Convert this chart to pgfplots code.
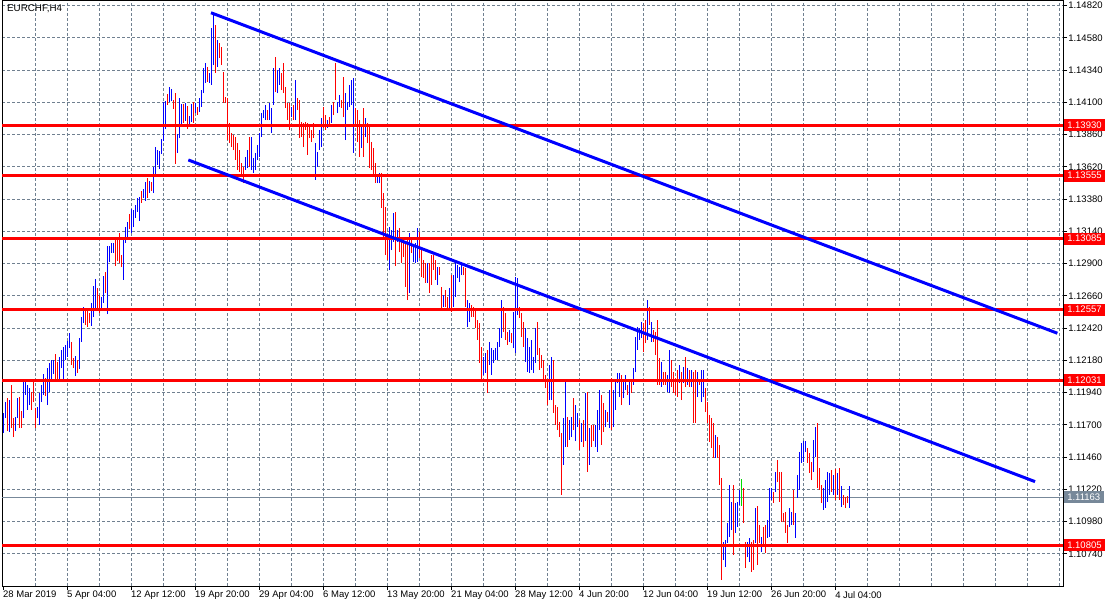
\documentclass[border=0pt]{standalone}
\usepackage{fontspec}
\setmainfont{Liberation Sans}
\usepackage{pgfplots}
\pgfplotsset{compat=1.18}
\definecolor{gridc}{RGB}{112,128,144}
\definecolor{curc}{RGB}{119,136,153}
\definecolor{mtblue}{RGB}{0,0,255}
\definecolor{mtred}{RGB}{255,0,0}
\definecolor{mtgreen}{RGB}{0,220,0}
\newcommand{\lblfont}{\fontsize{9.5bp}{11bp}\selectfont}
\begin{document}
\begin{tikzpicture}
\useasboundingbox (0,0) rectangle (1116bp,607bp);
\begin{axis}[
  at={(2bp,21bp)}, anchor=south west,
  scale only axis, width=1061bp, height=585bp,
  xmin=-0.75, xmax=529.75, ymin=1.105016, ymax=1.148535,
  axis line style={black, line width=1bp},
  xtick={32,64,...,416},
  xticklabels={5 Apr 04:00,12 Apr 12:00,19 Apr 20:00,29 Apr 04:00,6 May 12:00,13 May 20:00,21 May 04:00,28 May 12:00,4 Jun 20:00,12 Jun 04:00,19 Jun 12:00,26 Jun 20:00,4 Jul 04:00},
  extra x ticks={0},
  extra x tick labels={28 Mar 2019},
  extra x tick style={grid=none},
  minor xtick={16,48,...,528,448,480,512},
  ytick={1.1074,1.1098,1.1122,1.1146,1.117,1.1194,1.1218,1.1242,1.1266,1.129,1.1314,1.1338,1.1362,1.1386,1.141,1.1434,1.1458,1.1482},
  yticklabels={1.10740,1.10980,1.11220,1.11460,1.11700,1.11940,1.12180,1.12420,1.12660,1.12900,1.13140,1.13380,1.13620,1.13860,1.14100,1.14340,1.14580,1.14820},
  xmajorgrids=true, xminorgrids=true, ymajorgrids=true,
  major grid style={gridc, line width=1bp, dash pattern=on 3bp off 2bp},
  minor grid style={gridc, line width=1bp, dash pattern=on 3bp off 2bp},
  tick align=outside,
  major tick length=4bp, minor tick length=0pt,
  tick style={black, line width=1bp},
  xtick pos=left, ytick pos=right,
  yticklabel pos=right,
  yticklabel style={anchor=west, font=\lblfont, inner sep=0pt, xshift=1bp},
  xticklabel style={anchor=north west, font=\lblfont, inner sep=0pt, xshift=-0.5bp, yshift=-1bp},
  clip=true,
]
\addplot[curc, line width=1bp, forget plot] coordinates {(-0.75,1.11163) (529.75,1.11163)};
% up bars (blue): (index, low) (index, high)
\addplot[draw=mtblue, color=mtblue, line width=1.05bp, line cap=butt, unbounded coords=jump] coordinates {
(0,1.11640)(0,1.11789)(nan,nan)
(1,1.11751)(1,1.11870)(nan,nan)
(3,1.11647)(3,1.11885)(nan,nan)
(6,1.11655)(6,1.11759)(nan,nan)
(7,1.11751)(7,1.11900)(nan,nan)
(10,1.11751)(10,1.12019)(nan,nan)
(11,1.11923)(11,1.12019)(nan,nan)
(12,1.11811)(12,1.11997)(nan,nan)
(13,1.11848)(13,1.11974)(nan,nan)
(17,1.11751)(17,1.11833)(nan,nan)
(18,1.11700)(18,1.11938)(nan,nan)
(19,1.11870)(19,1.11997)(nan,nan)
(20,1.11923)(20,1.12079)(nan,nan)
(22,1.11848)(22,1.12123)(nan,nan)
(23,1.11945)(23,1.12161)(nan,nan)
(24,1.12034)(24,1.12183)(nan,nan)
(25,1.12079)(25,1.12183)(nan,nan)
(28,1.12034)(28,1.12205)(nan,nan)
(29,1.12123)(29,1.12257)(nan,nan)
(30,1.12034)(30,1.12280)(nan,nan)
(31,1.12183)(31,1.12295)(nan,nan)
(32,1.12205)(32,1.12325)(nan,nan)
(33,1.12272)(33,1.12384)(nan,nan)
(36,1.12064)(36,1.12213)(nan,nan)
(38,1.12116)(38,1.12347)(nan,nan)
(39,1.12317)(39,1.12503)(nan,nan)
(40,1.12459)(40,1.12577)(nan,nan)
(44,1.12436)(44,1.12607)(nan,nan)
(45,1.12503)(45,1.12733)(nan,nan)
(46,1.12569)(46,1.12785)(nan,nan)
(49,1.12569)(49,1.12652)(nan,nan)
(50,1.12607)(50,1.12808)(nan,nan)
(52,1.12525)(52,1.13031)(nan,nan)
(53,1.12912)(53,1.13031)(nan,nan)
(54,1.12979)(54,1.13054)(nan,nan)
(55,1.12979)(55,1.13054)(nan,nan)
(60,1.12778)(60,1.13097)(nan,nan)
(61,1.13054)(61,1.13172)(nan,nan)
(62,1.13090)(62,1.13209)(nan,nan)
(64,1.13128)(64,1.13306)(nan,nan)
(65,1.13172)(65,1.13299)(nan,nan)
(66,1.13239)(66,1.13336)(nan,nan)
(67,1.13284)(67,1.13388)(nan,nan)
(68,1.13217)(68,1.13396)(nan,nan)
(70,1.13388)(70,1.13455)(nan,nan)
(71,1.13366)(71,1.13507)(nan,nan)
(73,1.13426)(73,1.13515)(nan,nan)
(75,1.13426)(75,1.13618)(nan,nan)
(76,1.13566)(76,1.13767)(nan,nan)
(77,1.13634)(77,1.13745)(nan,nan)
(78,1.13604)(78,1.13738)(nan,nan)
(79,1.13715)(79,1.13827)(nan,nan)
(80,1.13812)(80,1.14102)(nan,nan)
(81,1.13901)(81,1.14109)(nan,nan)
(83,1.14102)(83,1.14214)(nan,nan)
(84,1.14109)(84,1.14199)(nan,nan)
(87,1.13723)(87,1.13864)(nan,nan)
(88,1.13834)(88,1.14132)(nan,nan)
(89,1.13938)(89,1.14087)(nan,nan)
(91,1.13961)(91,1.14095)(nan,nan)
(93,1.13938)(93,1.13998)(nan,nan)
(94,1.13953)(94,1.14087)(nan,nan)
(96,1.14020)(96,1.14095)(nan,nan)
(98,1.14028)(98,1.14132)(nan,nan)
(99,1.14065)(99,1.14191)(nan,nan)
(100,1.14169)(100,1.14355)(nan,nan)
(101,1.14244)(101,1.14392)(nan,nan)
(103,1.14244)(103,1.14318)(nan,nan)
(104,1.14229)(104,1.14653)(nan,nan)
(105,1.14377)(105,1.14750)(nan,nan)
(107,1.14363)(107,1.14563)(nan,nan)
(121,1.13596)(121,1.13693)(nan,nan)
(122,1.13611)(122,1.13745)(nan,nan)
(124,1.13596)(124,1.13842)(nan,nan)
(125,1.13574)(125,1.13686)(nan,nan)
(126,1.13596)(126,1.13723)(nan,nan)
(127,1.13671)(127,1.13782)(nan,nan)
(128,1.13693)(128,1.13872)(nan,nan)
(129,1.13842)(129,1.14020)(nan,nan)
(130,1.13983)(130,1.14043)(nan,nan)
(131,1.13968)(131,1.14080)(nan,nan)
(133,1.13968)(133,1.14095)(nan,nan)
(134,1.13872)(134,1.14058)(nan,nan)
(135,1.14080)(135,1.14355)(nan,nan)
(137,1.14169)(137,1.14340)(nan,nan)
(138,1.14229)(138,1.14355)(nan,nan)
(144,1.13990)(144,1.14065)(nan,nan)
(146,1.13968)(146,1.14266)(nan,nan)
(156,1.13522)(156,1.13797)(nan,nan)
(157,1.13618)(157,1.13730)(nan,nan)
(158,1.13745)(158,1.13894)(nan,nan)
(159,1.13767)(159,1.13983)(nan,nan)
(162,1.13909)(162,1.13968)(nan,nan)
(164,1.13946)(164,1.14080)(nan,nan)
(167,1.14020)(167,1.14102)(nan,nan)
(168,1.14065)(168,1.14154)(nan,nan)
(171,1.13819)(171,1.14169)(nan,nan)
(172,1.14043)(172,1.14102)(nan,nan)
(173,1.14065)(173,1.14229)(nan,nan)
(174,1.14080)(174,1.14266)(nan,nan)
(175,1.13723)(175,1.14281)(nan,nan)
(179,1.13760)(179,1.13931)(nan,nan)
(181,1.13842)(181,1.13983)(nan,nan)
(187,1.13499)(187,1.13559)(nan,nan)
(188,1.13499)(188,1.13574)(nan,nan)
(193,1.12852)(193,1.13172)(nan,nan)
(194,1.13001)(194,1.13150)(nan,nan)
(195,1.13061)(195,1.13276)(nan,nan)
(197,1.13061)(197,1.13150)(nan,nan)
(203,1.12681)(203,1.13128)(nan,nan)
(205,1.12912)(205,1.13024)(nan,nan)
(206,1.12905)(206,1.13054)(nan,nan)
(207,1.12912)(207,1.13165)(nan,nan)
(212,1.12756)(212,1.12905)(nan,nan)
(217,1.12741)(217,1.12874)(nan,nan)
(220,1.12577)(220,1.12667)(nan,nan)
(223,1.12569)(223,1.12718)(nan,nan)
(225,1.12577)(225,1.12815)(nan,nan)
(226,1.12652)(226,1.12905)(nan,nan)
(227,1.12793)(227,1.12890)(nan,nan)
(228,1.12763)(228,1.12874)(nan,nan)
(229,1.12815)(229,1.12890)(nan,nan)
(232,1.12429)(232,1.12629)(nan,nan)
(233,1.12466)(233,1.12607)(nan,nan)
(240,1.12072)(240,1.12205)(nan,nan)
(241,1.12087)(241,1.12235)(nan,nan)
(243,1.12146)(243,1.12317)(nan,nan)
(244,1.12072)(244,1.12272)(nan,nan)
(245,1.12161)(245,1.12257)(nan,nan)
(246,1.12183)(246,1.12272)(nan,nan)
(247,1.12183)(247,1.12317)(nan,nan)
(248,1.12280)(248,1.12421)(nan,nan)
(249,1.12347)(249,1.12629)(nan,nan)
(253,1.12317)(253,1.12406)(nan,nan)
(255,1.12272)(255,1.12540)(nan,nan)
(256,1.12235)(256,1.12800)(nan,nan)
(257,1.12518)(257,1.12793)(nan,nan)
(261,1.12168)(261,1.12421)(nan,nan)
(262,1.12094)(262,1.12347)(nan,nan)
(263,1.12087)(263,1.12280)(nan,nan)
(264,1.12109)(264,1.12332)(nan,nan)
(265,1.12087)(265,1.12205)(nan,nan)
(266,1.12161)(266,1.12421)(nan,nan)
(273,1.11885)(273,1.12146)(nan,nan)
(274,1.11885)(274,1.12205)(nan,nan)
(280,1.11402)(280,1.11751)(nan,nan)
(281,1.11536)(281,1.12019)(nan,nan)
(283,1.11588)(283,1.11737)(nan,nan)
(284,1.11610)(284,1.11759)(nan,nan)
(286,1.11580)(286,1.11848)(nan,nan)
(287,1.11685)(287,1.11789)(nan,nan)
(289,1.11573)(289,1.11715)(nan,nan)
(291,1.11580)(291,1.11938)(nan,nan)
(293,1.11402)(293,1.11677)(nan,nan)
(296,1.11536)(296,1.11700)(nan,nan)
(297,1.11499)(297,1.11811)(nan,nan)
(298,1.11662)(298,1.11960)(nan,nan)
(301,1.11685)(301,1.11811)(nan,nan)
(303,1.11677)(303,1.11960)(nan,nan)
(305,1.11685)(305,1.11960)(nan,nan)
(306,1.11811)(306,1.12019)(nan,nan)
(307,1.12012)(307,1.12087)(nan,nan)
(308,1.11908)(308,1.12087)(nan,nan)
(310,1.11900)(310,1.12034)(nan,nan)
(311,1.11960)(311,1.12072)(nan,nan)
(313,1.11848)(313,1.12034)(nan,nan)
(315,1.11997)(315,1.12123)(nan,nan)
(316,1.12094)(316,1.12354)(nan,nan)
(317,1.12257)(317,1.12429)(nan,nan)
(318,1.12332)(318,1.12421)(nan,nan)
(319,1.12347)(319,1.12466)(nan,nan)
(322,1.12332)(322,1.12629)(nan,nan)
(324,1.12317)(324,1.12466)(nan,nan)
(329,1.11982)(329,1.12168)(nan,nan)
(332,1.11945)(332,1.12072)(nan,nan)
(333,1.11938)(333,1.12257)(nan,nan)
(338,1.12012)(338,1.12146)(nan,nan)
(340,1.12012)(340,1.12131)(nan,nan)
(342,1.11997)(342,1.12123)(nan,nan)
(344,1.11982)(344,1.12109)(nan,nan)
(347,1.11908)(347,1.12094)(nan,nan)
(349,1.11870)(349,1.12109)(nan,nan)
(350,1.11908)(350,1.12109)(nan,nan)
(356,1.11454)(356,1.11625)(nan,nan)
(360,1.10695)(360,1.10829)(nan,nan)
(361,1.10643)(361,1.10844)(nan,nan)
(362,1.10822)(362,1.10970)(nan,nan)
(363,1.10866)(363,1.11253)(nan,nan)
(364,1.10918)(364,1.11127)(nan,nan)
(366,1.10896)(366,1.11119)(nan,nan)
(367,1.10941)(367,1.11127)(nan,nan)
(368,1.11105)(368,1.11216)(nan,nan)
(372,1.10718)(372,1.10829)(nan,nan)
(373,1.10680)(373,1.10859)(nan,nan)
(376,1.10822)(376,1.11082)(nan,nan)
(379,1.10755)(379,1.10866)(nan,nan)
(382,1.10859)(382,1.10993)(nan,nan)
(383,1.10866)(383,1.11231)(nan,nan)
(384,1.11142)(384,1.11231)(nan,nan)
(386,1.11201)(386,1.11350)(nan,nan)
(393,1.10941)(393,1.11082)(nan,nan)
(394,1.10956)(394,1.11052)(nan,nan)
(396,1.10859)(396,1.11045)(nan,nan)
(397,1.11157)(397,1.11328)(nan,nan)
(398,1.11216)(398,1.11499)(nan,nan)
(399,1.11417)(399,1.11566)(nan,nan)
(400,1.11424)(400,1.11580)(nan,nan)
(401,1.11499)(401,1.11580)(nan,nan)
(405,1.11350)(405,1.11588)(nan,nan)
(406,1.11462)(406,1.11685)(nan,nan)
(410,1.11067)(410,1.11231)(nan,nan)
(411,1.11082)(411,1.11290)(nan,nan)
(412,1.11127)(412,1.11350)(nan,nan)
(413,1.11179)(413,1.11343)(nan,nan)
(415,1.11179)(415,1.11328)(nan,nan)
(417,1.11179)(417,1.11343)(nan,nan)
(419,1.11090)(419,1.11246)(nan,nan)
(423,1.11082)(423,1.11246)
};
% down bars (red)
\addplot[draw=mtred, color=mtred, line width=1.05bp, line cap=butt, unbounded coords=jump] coordinates {
(2,1.11655)(2,1.11900)(nan,nan)
(4,1.11677)(4,1.11997)(nan,nan)
(5,1.11610)(5,1.11751)(nan,nan)
(8,1.11677)(8,1.11908)(nan,nan)
(9,1.11677)(9,1.11804)(nan,nan)
(14,1.11811)(14,1.11945)(nan,nan)
(15,1.11870)(15,1.12019)(nan,nan)
(16,1.11677)(16,1.11825)(nan,nan)
(21,1.11915)(21,1.12049)(nan,nan)
(26,1.12041)(26,1.12227)(nan,nan)
(27,1.12041)(27,1.12168)(nan,nan)
(34,1.12146)(34,1.12317)(nan,nan)
(35,1.12123)(35,1.12198)(nan,nan)
(37,1.12087)(37,1.12183)(nan,nan)
(41,1.12444)(41,1.12555)(nan,nan)
(42,1.12429)(42,1.12555)(nan,nan)
(43,1.12459)(43,1.12533)(nan,nan)
(47,1.12555)(47,1.12718)(nan,nan)
(48,1.12533)(48,1.12667)(nan,nan)
(51,1.12681)(51,1.12837)(nan,nan)
(56,1.12882)(56,1.13076)(nan,nan)
(57,1.12920)(57,1.13090)(nan,nan)
(58,1.12905)(58,1.13128)(nan,nan)
(59,1.12874)(59,1.12964)(nan,nan)
(63,1.13157)(63,1.13269)(nan,nan)
(69,1.13351)(69,1.13441)(nan,nan)
(72,1.13388)(72,1.13537)(nan,nan)
(74,1.13441)(74,1.13507)(nan,nan)
(82,1.14080)(82,1.14161)(nan,nan)
(85,1.14050)(85,1.14117)(nan,nan)
(86,1.13641)(86,1.14169)(nan,nan)
(90,1.13946)(90,1.14087)(nan,nan)
(92,1.13901)(92,1.14072)(nan,nan)
(95,1.13946)(95,1.14102)(nan,nan)
(97,1.14005)(97,1.14065)(nan,nan)
(102,1.14251)(102,1.14363)(nan,nan)
(106,1.14318)(106,1.14675)(nan,nan)
(108,1.14430)(108,1.14541)(nan,nan)
(109,1.14377)(109,1.14511)(nan,nan)
(110,1.14095)(110,1.14325)(nan,nan)
(111,1.14095)(111,1.14139)(nan,nan)
(112,1.13819)(112,1.14132)(nan,nan)
(113,1.13797)(113,1.13946)(nan,nan)
(114,1.13767)(114,1.13872)(nan,nan)
(115,1.13745)(115,1.13857)(nan,nan)
(116,1.13671)(116,1.13842)(nan,nan)
(117,1.13596)(117,1.13797)(nan,nan)
(118,1.13581)(118,1.13745)(nan,nan)
(119,1.13544)(119,1.13649)(nan,nan)
(120,1.13499)(120,1.13618)(nan,nan)
(123,1.13618)(123,1.13842)(nan,nan)
(132,1.13968)(132,1.14043)(nan,nan)
(136,1.14176)(136,1.14437)(nan,nan)
(139,1.14191)(139,1.14318)(nan,nan)
(140,1.14169)(140,1.14392)(nan,nan)
(141,1.14058)(141,1.14214)(nan,nan)
(142,1.13968)(142,1.14095)(nan,nan)
(143,1.13894)(143,1.14095)(nan,nan)
(145,1.13968)(145,1.14080)(nan,nan)
(147,1.14043)(147,1.14132)(nan,nan)
(148,1.13834)(148,1.14117)(nan,nan)
(149,1.13842)(149,1.13953)(nan,nan)
(150,1.13767)(150,1.13946)(nan,nan)
(151,1.13894)(151,1.13953)(nan,nan)
(152,1.13708)(152,1.13946)(nan,nan)
(153,1.13834)(153,1.13916)(nan,nan)
(154,1.13804)(154,1.13894)(nan,nan)
(155,1.13834)(155,1.13946)(nan,nan)
(160,1.13909)(160,1.14065)(nan,nan)
(161,1.13894)(161,1.14005)(nan,nan)
(163,1.13916)(163,1.13990)(nan,nan)
(165,1.14005)(165,1.14102)(nan,nan)
(166,1.14117)(166,1.14392)(nan,nan)
(169,1.14058)(169,1.14117)(nan,nan)
(170,1.13990)(170,1.14288)(nan,nan)
(176,1.13931)(176,1.14058)(nan,nan)
(177,1.13804)(177,1.14043)(nan,nan)
(178,1.13693)(178,1.13968)(nan,nan)
(180,1.13693)(180,1.14058)(nan,nan)
(182,1.13797)(182,1.13946)(nan,nan)
(183,1.13611)(183,1.13931)(nan,nan)
(184,1.13596)(184,1.13804)(nan,nan)
(185,1.13559)(185,1.13760)(nan,nan)
(186,1.13499)(186,1.13649)(nan,nan)
(189,1.13314)(189,1.13574)(nan,nan)
(190,1.13097)(190,1.13426)(nan,nan)
(191,1.12964)(191,1.13321)(nan,nan)
(192,1.12927)(192,1.13097)(nan,nan)
(196,1.12882)(196,1.13284)(nan,nan)
(198,1.12986)(198,1.13165)(nan,nan)
(199,1.12905)(199,1.13097)(nan,nan)
(200,1.12949)(200,1.13076)(nan,nan)
(201,1.12726)(201,1.13054)(nan,nan)
(202,1.12629)(202,1.13076)(nan,nan)
(204,1.12979)(204,1.13076)(nan,nan)
(208,1.12942)(208,1.13135)(nan,nan)
(209,1.12800)(209,1.13024)(nan,nan)
(210,1.12793)(210,1.12927)(nan,nan)
(211,1.12756)(211,1.12905)(nan,nan)
(213,1.12681)(213,1.12905)(nan,nan)
(214,1.12741)(214,1.12964)(nan,nan)
(215,1.12852)(215,1.12964)(nan,nan)
(216,1.12778)(216,1.12927)(nan,nan)
(218,1.12815)(218,1.12874)(nan,nan)
(219,1.12569)(219,1.12726)(nan,nan)
(221,1.12577)(221,1.12704)(nan,nan)
(222,1.12569)(222,1.12652)(nan,nan)
(224,1.12540)(224,1.12815)(nan,nan)
(230,1.12815)(230,1.12874)(nan,nan)
(231,1.12577)(231,1.12867)(nan,nan)
(234,1.12503)(234,1.12592)(nan,nan)
(235,1.12503)(235,1.12577)(nan,nan)
(236,1.12421)(236,1.12555)(nan,nan)
(237,1.12332)(237,1.12481)(nan,nan)
(238,1.12161)(238,1.12459)(nan,nan)
(239,1.12034)(239,1.12280)(nan,nan)
(242,1.11938)(242,1.12257)(nan,nan)
(250,1.12391)(250,1.12577)(nan,nan)
(251,1.12332)(251,1.12533)(nan,nan)
(252,1.12295)(252,1.12391)(nan,nan)
(254,1.12309)(254,1.12384)(nan,nan)
(258,1.12496)(258,1.12577)(nan,nan)
(259,1.12354)(259,1.12533)(nan,nan)
(260,1.12280)(260,1.12466)(nan,nan)
(267,1.12220)(267,1.12466)(nan,nan)
(268,1.12109)(268,1.12272)(nan,nan)
(269,1.12123)(269,1.12220)(nan,nan)
(270,1.12034)(270,1.12183)(nan,nan)
(271,1.11974)(271,1.12072)(nan,nan)
(272,1.11848)(272,1.12034)(nan,nan)
(275,1.11789)(275,1.12183)(nan,nan)
(276,1.11700)(276,1.11848)(nan,nan)
(277,1.11662)(277,1.11833)(nan,nan)
(278,1.11610)(278,1.11722)(nan,nan)
(279,1.11179)(279,1.11640)(nan,nan)
(282,1.11536)(282,1.11759)(nan,nan)
(285,1.11662)(285,1.11900)(nan,nan)
(288,1.11514)(288,1.11737)(nan,nan)
(290,1.11536)(290,1.11737)(nan,nan)
(292,1.11350)(292,1.11945)(nan,nan)
(294,1.11536)(294,1.11700)(nan,nan)
(295,1.11580)(295,1.11700)(nan,nan)
(299,1.11551)(299,1.11923)(nan,nan)
(300,1.11647)(300,1.11863)(nan,nan)
(302,1.11722)(302,1.11796)(nan,nan)
(304,1.11662)(304,1.12049)(nan,nan)
(309,1.11848)(309,1.12072)(nan,nan)
(312,1.11923)(312,1.11997)(nan,nan)
(314,1.11938)(314,1.12034)(nan,nan)
(320,1.12242)(320,1.12459)(nan,nan)
(321,1.12309)(321,1.12481)(nan,nan)
(323,1.12444)(323,1.12577)(nan,nan)
(325,1.12317)(325,1.12406)(nan,nan)
(326,1.12220)(326,1.12391)(nan,nan)
(327,1.11997)(327,1.12481)(nan,nan)
(328,1.11997)(328,1.12198)(nan,nan)
(330,1.11997)(330,1.12094)(nan,nan)
(331,1.11997)(331,1.12094)(nan,nan)
(334,1.11982)(334,1.12183)(nan,nan)
(335,1.11938)(335,1.12094)(nan,nan)
(336,1.11923)(336,1.12049)(nan,nan)
(337,1.11908)(337,1.12109)(nan,nan)
(339,1.11885)(339,1.12094)(nan,nan)
(341,1.11982)(341,1.12205)(nan,nan)
(343,1.11982)(343,1.12109)(nan,nan)
(345,1.11715)(345,1.12094)(nan,nan)
(346,1.11715)(346,1.12109)(nan,nan)
(348,1.11997)(348,1.12034)(nan,nan)
(351,1.11796)(351,1.11974)(nan,nan)
(352,1.11715)(352,1.11870)(nan,nan)
(353,1.11573)(353,1.11774)(nan,nan)
(354,1.11529)(354,1.11751)(nan,nan)
(355,1.11454)(355,1.11715)(nan,nan)
(357,1.11454)(357,1.11610)(nan,nan)
(358,1.11253)(358,1.11551)(nan,nan)
(359,1.10547)(359,1.11305)(nan,nan)
(365,1.10733)(365,1.11253)(nan,nan)
(370,1.10970)(370,1.11231)(nan,nan)
(371,1.10636)(371,1.10829)(nan,nan)
(374,1.10606)(374,1.10829)(nan,nan)
(375,1.10621)(375,1.10844)(nan,nan)
(377,1.10658)(377,1.11097)(nan,nan)
(378,1.10822)(378,1.10956)(nan,nan)
(380,1.10792)(380,1.10941)(nan,nan)
(381,1.10748)(381,1.10956)(nan,nan)
(385,1.11119)(385,1.11201)(nan,nan)
(387,1.11275)(387,1.11439)(nan,nan)
(388,1.11127)(388,1.11350)(nan,nan)
(389,1.10978)(389,1.11350)(nan,nan)
(390,1.10978)(390,1.11045)(nan,nan)
(391,1.10896)(391,1.11052)(nan,nan)
(392,1.10822)(392,1.10956)(nan,nan)
(395,1.10956)(395,1.11216)(nan,nan)
(402,1.11417)(402,1.11529)(nan,nan)
(403,1.11343)(403,1.11492)(nan,nan)
(404,1.11290)(404,1.11424)(nan,nan)
(407,1.11231)(407,1.11715)(nan,nan)
(408,1.11216)(408,1.11380)(nan,nan)
(409,1.11119)(409,1.11253)(nan,nan)
(414,1.11201)(414,1.11365)(nan,nan)
(416,1.11142)(416,1.11372)(nan,nan)
(418,1.11142)(418,1.11380)(nan,nan)
(420,1.11105)(420,1.11179)(nan,nan)
(421,1.11082)(421,1.11164)(nan,nan)
(422,1.11119)(422,1.11172)
};
% unchanged bar (green)
\addplot[draw=mtgreen, line width=1.05bp] coordinates {(369,1.11097)(369,1.11298)};
\addplot[mtred, line width=3bp] coordinates {(-0.75,1.13930) (529.75,1.13930)};
\addplot[mtred, line width=3bp] coordinates {(-0.75,1.13555) (529.75,1.13555)};
\addplot[mtred, line width=3bp] coordinates {(-0.75,1.13085) (529.75,1.13085)};
\addplot[mtred, line width=3bp] coordinates {(-0.75,1.12557) (529.75,1.12557)};
\addplot[mtred, line width=3bp] coordinates {(-0.75,1.12031) (529.75,1.12031)};
\addplot[mtred, line width=3bp] coordinates {(-0.75,1.10805) (529.75,1.10805)};
\addplot[mtblue, line width=3bp] coordinates {(103.75,1.14766) (526.9,1.12382)};
\addplot[mtblue, line width=3bp] coordinates {(92.4,1.13671) (515.75,1.11278)};
\coordinate (r1) at (axis cs:529.75,1.13930);
\coordinate (r2) at (axis cs:529.75,1.13555);
\coordinate (r3) at (axis cs:529.75,1.13085);
\coordinate (r4) at (axis cs:529.75,1.12557);
\coordinate (r5) at (axis cs:529.75,1.12031);
\coordinate (r6) at (axis cs:529.75,1.10805);
\coordinate (g1) at (axis cs:529.75,1.11163);
\end{axis}
\tikzset{lbl/.style={anchor=west, text=white, font=\lblfont, inner xsep=3.5bp, inner ysep=0pt, minimum height=12bp, xshift=0.5bp}}
\node[lbl, fill=mtred] at (r1) {1.13930};
\node[lbl, fill=mtred] at (r2) {1.13555};
\node[lbl, fill=mtred] at (r3) {1.13085};
\node[lbl, fill=mtred] at (r4) {1.12557};
\node[lbl, fill=mtred] at (r5) {1.12031};
\node[lbl, fill=mtred] at (r6) {1.10805};
\node[lbl, fill=curc] at (g1) {1.11163};
\node[anchor=north west, inner sep=0pt, font=\fontsize{9.8bp}{11bp}\selectfont] at (7bp,603bp) {EURCHF,H4};
\end{tikzpicture}
\end{document}
